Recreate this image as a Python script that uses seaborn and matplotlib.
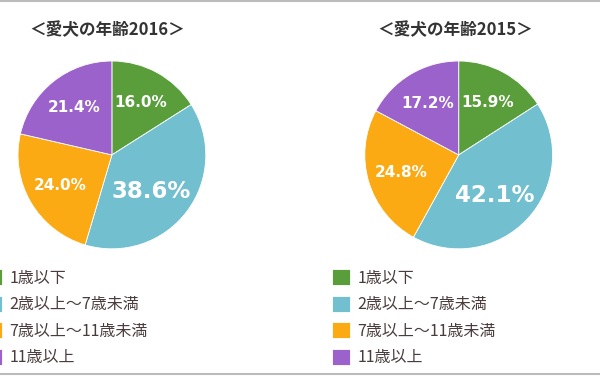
import matplotlib
matplotlib.use("Agg")
import seaborn as sns
import matplotlib.pyplot as plt
from matplotlib.lines import Line2D

# data
categories = ["1歳以下", "2歳以上～7歳未満", "7歳以上～11歳未満", "11歳以上"]
share_2016 = [16.0, 38.6, 24.0, 21.4]
share_2015 = [15.9, 42.1, 24.8, 17.2]
titles = ["＜愛犬の年齢2016＞", "＜愛犬の年齢2015＞"]

sns.set_theme(style="white")
plt.rcParams['font.family'] = ['Noto Sans CJK JP', 'DejaVu Sans']

palette = sns.color_palette(["#5a9e3c", "#72bfcf", "#fbaa14", "#9b62cc"])

fig = plt.figure(figsize=(6, 3.76), dpi=100)

# pie axes positions (left, bottom, width, height) in figure fraction
positions = [[0.030, 0.338, 0.313, 0.5], [0.608, 0.338, 0.313, 0.5]]
title_x = [0.178, 0.758]
legend_x = [-0.027, 0.553]

for shares, title, pos, tx, lx in zip([share_2016, share_2015], titles, positions, title_x, legend_x):
    ax = fig.add_axes(pos)
    wedges, _, autotexts = ax.pie(
        shares, colors=palette, startangle=90, counterclock=False,
        autopct="%.1f%%", pctdistance=0.64,
        wedgeprops=dict(edgecolor="white", linewidth=0.6),
        textprops=dict(color="white", fontsize=11, fontweight="bold",
                       family="DejaVu Sans"))
    # the biggest slice gets a larger label, pulled a bit toward the centre
    big = shares.index(max(shares))
    autotexts[big].set_fontsize(16.5)
    bx, by = autotexts[big].get_position()
    autotexts[big].set_position((bx * 0.82, by))
    ax.set_xlim(-1, 1)
    ax.set_ylim(-1, 1)
    ax.set_axis_off()

    fig.text(tx, 0.92, title, ha="center", va="center", fontsize=12,
             fontweight="bold", color="#333333")

    fig.legend(wedges, categories, loc="upper left", bbox_to_anchor=(lx, 0.284),
               frameon=False, fontsize=11.5, handlelength=1.15, handleheight=1.15,
               handletextpad=0.45, labelspacing=0.58, borderpad=0, borderaxespad=0,
               labelcolor="#4a3c3c")

# thin grey frame lines at top and bottom
for y in [0.998, 0.004]:
    fig.add_artist(Line2D([0, 1], [y, y], color="#bbbbbb", linewidth=1.5))

plt.savefig("out.png", dpi=100, facecolor="white")
